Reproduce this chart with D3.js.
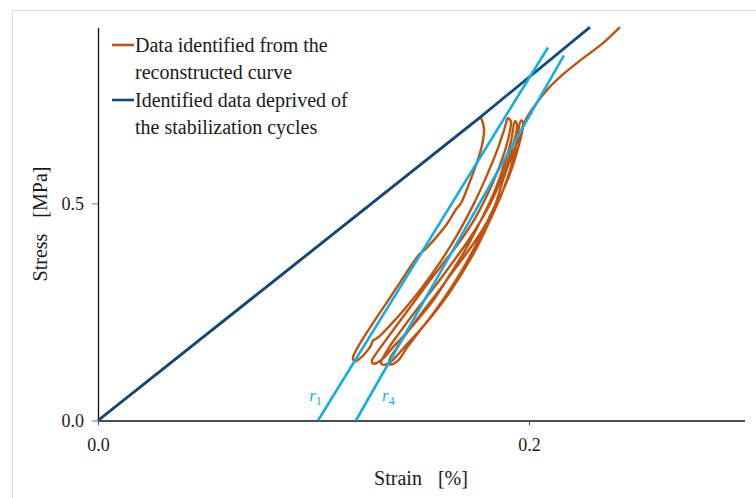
<!DOCTYPE html>
<html>
<head>
<meta charset="utf-8">
<script src="https://cdn.jsdelivr.net/npm/d3@7"></script>
<style>
  html, body { margin: 0; padding: 0; background: #fff; }
  svg { display: block; }
  text { font-family: "Liberation Serif", "DejaVu Serif", serif; fill: #1a1a1a; }
</style>
</head>
<body>
<svg id="chart" width="756" height="498"></svg>
<script>
// ---------------- data ----------------
const xTicks = [0.0, 0.2];
const yTicks = [0.0, 0.5];
const xTitle = ["Strain", "[%]"];
const yTitle = ["Stress", "[MPa]"];
const legendLabels = [
  ["Data identified from the", "reconstructed curve"],
  ["Identified data deprived of", "the stabilization cycles"]
];

// Data identified from the reconstructed curve (strain %, stress MPa)
const reconstructed = [
  // first loading
  [0, 0], [0.0450, 0.177], [0.0900, 0.354], [0.1350, 0.531], [0.1600, 0.630],
  [0.1720, 0.677], [0.1762, 0.694], [0.1773, 0.698],
  // unloading 1
  [0.1791, 0.673], [0.1782, 0.634], [0.1754, 0.588], [0.1717, 0.539], [0.1684, 0.500],
  [0.1661, 0.486], [0.1624, 0.456], [0.1573, 0.424], [0.1522, 0.396], [0.1490, 0.382],
  [0.1476, 0.373], [0.1420, 0.332], [0.1355, 0.283], [0.1290, 0.235], [0.1230, 0.189],
  [0.1197, 0.161], [0.1183, 0.143], [0.1193, 0.136],
  // reloading 1
  [0.1216, 0.143], [0.1244, 0.157], [0.1267, 0.173], [0.1276, 0.184], [0.1299, 0.191],
  [0.1355, 0.219], [0.1425, 0.258], [0.1503, 0.306], [0.1587, 0.364], [0.1671, 0.431],
  [0.1745, 0.500], [0.1805, 0.565], [0.1852, 0.622], [0.1884, 0.668], [0.1903, 0.696],
  // unloading 2
  [0.1916, 0.689], [0.1912, 0.668], [0.1889, 0.622], [0.1852, 0.571], [0.1805, 0.518],
  [0.1749, 0.465], [0.1689, 0.419], [0.1619, 0.373], [0.1541, 0.323], [0.1462, 0.270],
  [0.1383, 0.217], [0.1318, 0.173], [0.1285, 0.150], [0.1271, 0.138], [0.1276, 0.131],
  // reloading 2
  [0.1299, 0.134], [0.1332, 0.147], [0.1364, 0.166], [0.1411, 0.191], [0.1480, 0.230],
  [0.1555, 0.276], [0.1633, 0.336], [0.1708, 0.396], [0.1777, 0.461], [0.1838, 0.525],
  [0.1884, 0.588], [0.1916, 0.641], [0.1935, 0.689],
  // unloading 3
  [0.1944, 0.682], [0.1940, 0.661], [0.1916, 0.618], [0.1879, 0.565], [0.1833, 0.512],
  [0.1777, 0.461], [0.1712, 0.410], [0.1638, 0.359], [0.1559, 0.306], [0.1480, 0.256],
  [0.1406, 0.207], [0.1350, 0.168], [0.1323, 0.145], [0.1313, 0.134], [0.1318, 0.129],
  // reloading 3
  [0.1346, 0.131], [0.1383, 0.147], [0.1425, 0.171], [0.1485, 0.203], [0.1555, 0.244],
  [0.1629, 0.293], [0.1698, 0.346], [0.1763, 0.403], [0.1819, 0.461], [0.1870, 0.518],
  [0.1912, 0.576], [0.1940, 0.634], [0.1963, 0.691],
  // unloading 4
  [0.1972, 0.687], [0.1968, 0.664], [0.1944, 0.618], [0.1907, 0.562], [0.1856, 0.505],
  [0.1796, 0.449], [0.1726, 0.396], [0.1652, 0.346], [0.1573, 0.293], [0.1494, 0.242],
  [0.1425, 0.196], [0.1378, 0.161], [0.1355, 0.143], [0.1350, 0.131], [0.1360, 0.129],
  // reloading 4 and further loading
  [0.1392, 0.138], [0.1434, 0.168], [0.1494, 0.207], [0.1559, 0.249], [0.1624, 0.295],
  [0.1689, 0.346], [0.1745, 0.396], [0.1805, 0.456], [0.1819, 0.472], [0.1842, 0.495],
  [0.1879, 0.553], [0.1916, 0.604], [0.1949, 0.645], [0.1981, 0.689], [0.2025, 0.724],
  [0.2085, 0.762], [0.2160, 0.798], [0.2250, 0.834], [0.2343, 0.869], [0.2422, 0.906]
];

// Identified data deprived of the stabilization cycles
const deprived = [[0, 0], [0.1773, 0.698], [0.2283, 0.906]];

// Straight lines r1 and r4
const r1Line = [[0.1021, 0], [0.2088, 0.859]];
const r4Line = [[0.1197, 0], [0.2162, 0.841]];
const rLabels = [
  { sub: "1", x: 0.0980, y: 0.046 },
  { sub: "4", x: 0.1318, y: 0.046 }
];

// ---------------- drawing ----------------
const svg = d3.select("#chart");
const colors = { orange: "#C0530F", navy: "#0E4A7D", cyan: "#14AEE6" };

const x = d3.scaleLinear().domain([0, 0.3]).range([98, 744.5]);
const y = d3.scaleLinear().domain([0, 0.905]).range([420.5, 27.5]);

// light frame
svg.append("line").attr("x1", 12.5).attr("x2", 12.5).attr("y1", 10).attr("y2", 498)
  .attr("stroke", "#dcdcdc").attr("stroke-width", 1);
svg.append("line").attr("x1", 12).attr("x2", 756).attr("y1", 10.5).attr("y2", 10.5)
  .attr("stroke", "#dcdcdc").attr("stroke-width", 1);

// axes
const xAxis = d3.axisBottom(x).tickValues(xTicks).tickFormat(d3.format(".1f"))
  .tickSizeInner(5).tickSizeOuter(0).tickPadding(13);
const gx = svg.append("g").attr("transform", `translate(0,${y(0)})`).call(xAxis);
gx.select(".domain").attr("stroke", "#111").attr("stroke-width", 1.3);
gx.selectAll(".tick line").attr("stroke", "#555");
gx.selectAll(".tick text").attr("font-family", "Liberation Serif").attr("font-size", 18).attr("fill", "#1a1a1a");

const yAxis = d3.axisLeft(y).tickValues(yTicks).tickFormat(d3.format(".1f"))
  .tickSizeInner(6).tickSizeOuter(0).tickPadding(8);
const gy = svg.append("g").attr("transform", `translate(${x(0)},0)`).call(yAxis);
gy.select(".domain").attr("stroke", "#111").attr("stroke-width", 1.3);
gy.selectAll(".tick line").attr("stroke", "#777");
gy.selectAll(".tick text").attr("font-family", "Liberation Serif").attr("font-size", 18).attr("fill", "#1a1a1a");

// axis titles
const xt = svg.append("text").attr("x", 421).attr("y", 485).attr("text-anchor", "middle")
  .attr("font-size", 20);
xt.append("tspan").text(xTitle[0]);
xt.append("tspan").attr("dx", 16).text(xTitle[1]);

const yt = svg.append("text").attr("transform", "translate(47,224) rotate(-90)")
  .attr("text-anchor", "middle").attr("font-size", 20);
yt.append("tspan").text(yTitle[0]);
yt.append("tspan").attr("dx", 16).text(yTitle[1]);

// series
const line = d3.line().x(d => x(d[0])).y(d => y(d[1]));
const smooth = d3.line().x(d => x(d[0])).y(d => y(d[1])).curve(d3.curveCatmullRom.alpha(0.5));

svg.append("path").datum(reconstructed).attr("d", smooth)
  .attr("fill", "none").attr("stroke", colors.orange).attr("stroke-width", 2.4)
  .attr("stroke-linejoin", "round");
svg.append("path").datum(deprived).attr("d", line)
  .attr("fill", "none").attr("stroke", colors.navy).attr("stroke-width", 2.8);

[r1Line, r4Line].forEach(l => {
  svg.append("path").datum(l).attr("d", line)
    .attr("fill", "none").attr("stroke", colors.cyan).attr("stroke-width", 2.6);
});

rLabels.forEach(r => {
  const t = svg.append("text").attr("x", x(r.x)).attr("y", y(r.y))
    .attr("font-size", 17).attr("font-style", "italic").style("fill", colors.cyan);
  t.append("tspan").text("r");
  t.append("tspan").attr("dy", 4).attr("font-size", 12).attr("font-style", "normal").text(r.sub);
});

// legend
const legendColors = [colors.orange, colors.navy];
const legendTop = [45, 100];
legendLabels.forEach((lines, i) => {
  const g = svg.append("g");
  g.append("line").attr("x1", 112).attr("x2", 134)
    .attr("y1", legendTop[i]).attr("y2", legendTop[i])
    .attr("stroke", legendColors[i]).attr("stroke-width", 2.6);
  lines.forEach((s, j) => {
    g.append("text").attr("x", 135).attr("y", legendTop[i] + 6.5 + j * 27)
      .attr("font-size", 20).text(s);
  });
});
</script>
</body>
</html>
